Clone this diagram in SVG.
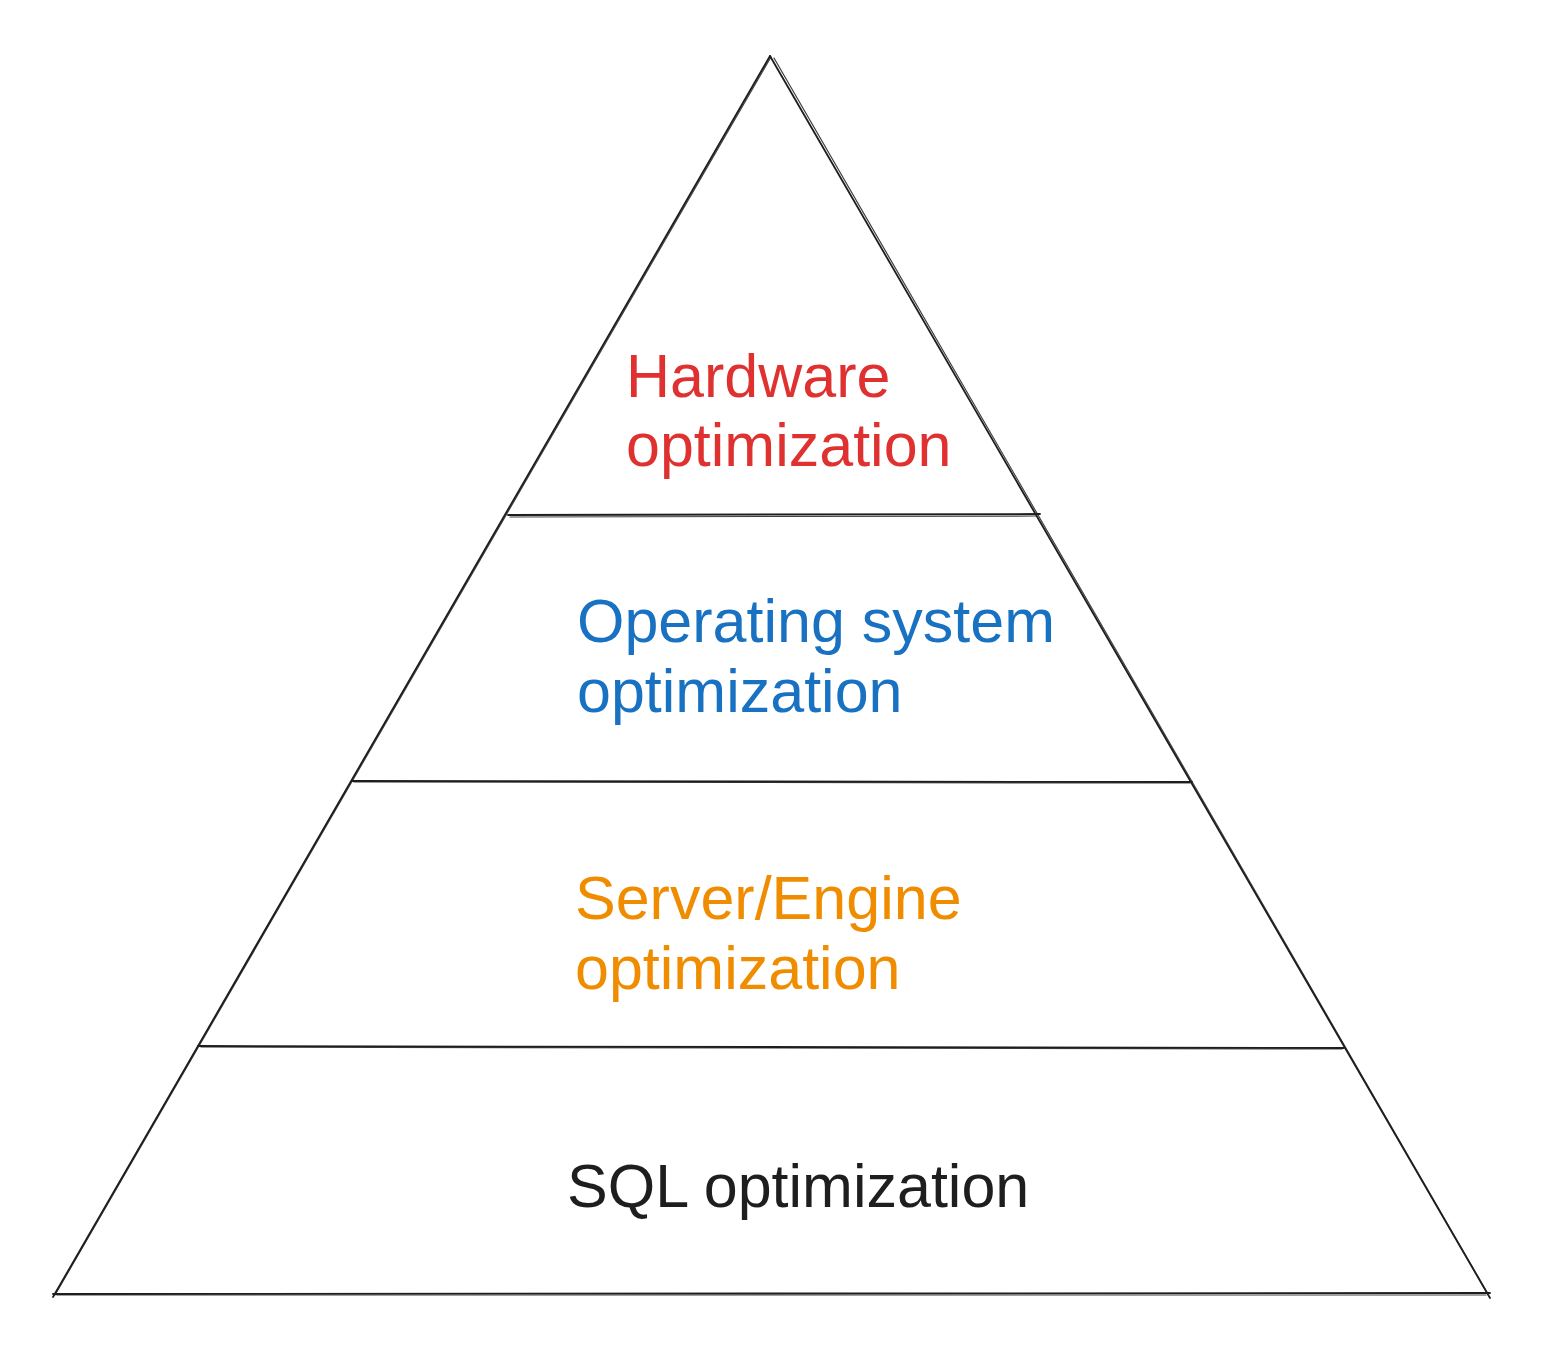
<svg xmlns="http://www.w3.org/2000/svg" width="1545" height="1349" viewBox="0 0 1545 1349">
  <style>
    .ln { fill: none; stroke: #1e1e1e; stroke-width: 1.8; stroke-linecap: round; }
    .ln2 { fill: none; stroke: #1e1e1e; stroke-width: 1.2; stroke-linecap: round; opacity: 0.85; }
    .t { font-family: "Liberation Sans", Arial, Helvetica, sans-serif; font-size: 61px; }
  </style>
  <rect width="1545" height="1349" fill="#ffffff"/>
  <g id="pyramid">
    <path class="ln" d="M53 1297 L770 56"/>
    <path class="ln2" d="M55 1295 L771 57"/>
    <path class="ln" d="M770 56 L1490 1298"/>
    <path class="ln2" d="M774 58 L1488 1294"/>
    <path class="ln" d="M53 1294 L1490 1293"/>
    <path class="ln2" d="M57 1295 L1486 1295"/>
  </g>
  <g id="dividers">
    <path class="ln" d="M508 515 L1040 514"/>
    <path class="ln2" d="M510 517 L1036 516"/>
    <path class="ln" d="M352 781 L1192 782"/>
    <path class="ln2" d="M354 782 L1190 783"/>
    <path class="ln" d="M198 1046 L1344 1048"/>
    <path class="ln2" d="M201 1047 L1342 1049"/>
  </g>
  <g id="layer-hardware">
    <text class="t" fill="#e03131" x="626" y="397">Hardware</text>
    <text class="t" fill="#e03131" x="626" y="466">optimization</text>
  </g>
  <g id="layer-os">
    <text class="t" fill="#1971c2" x="577" y="642">Operating system</text>
    <text class="t" fill="#1971c2" x="577" y="712">optimization</text>
  </g>
  <g id="layer-engine">
    <text class="t" fill="#f08c00" x="575" y="919">Server/Engine</text>
    <text class="t" fill="#f08c00" x="575" y="989">optimization</text>
  </g>
  <g id="layer-sql">
    <text class="t" fill="#1e1e1e" x="567" y="1207">SQL optimization</text>
  </g>
</svg>
